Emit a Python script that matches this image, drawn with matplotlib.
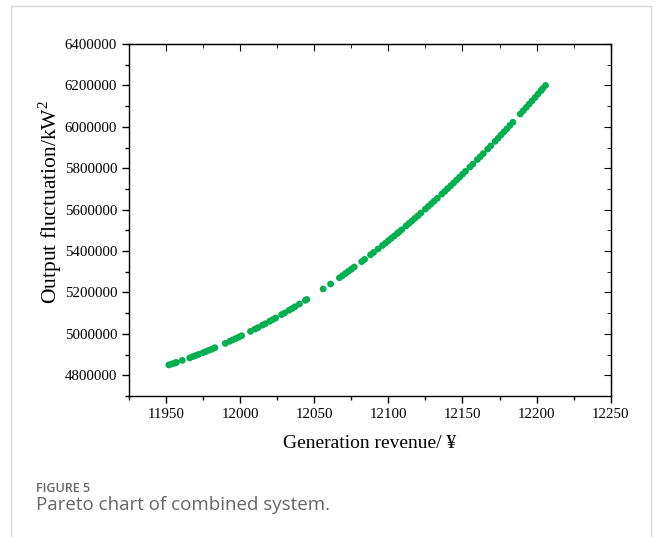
import matplotlib.pyplot as plt
from matplotlib.lines import Line2D
from matplotlib.ticker import MultipleLocator, ScalarFormatter

# Pareto front points
revenue = [11952, 11954, 11956, 11957, 11961, 11966, 11968, 11970, 11972, 11975,
           11977, 11979, 11981, 11983, 11990, 11993, 11995, 11997, 11999, 12001,
           12007, 12010, 12012, 12015, 12017, 12020, 12022, 12024, 12028, 12030,
           12033, 12035, 12037, 12040, 12044, 12045, 12056, 12061, 12067, 12069,
           12071, 12073, 12075, 12077, 12082, 12084, 12088, 12090, 12093, 12096,
           12098, 12100, 12102, 12104, 12106, 12107, 12109, 12112, 12114, 12116,
           12118, 12120, 12122, 12125, 12127, 12129, 12131, 12133, 12136, 12138,
           12140, 12142, 12144, 12146, 12148, 12150, 12152, 12155, 12157, 12160,
           12162, 12164, 12167, 12169, 12172, 12174, 12176, 12178, 12180, 12182,
           12184, 12189, 12191, 12193, 12195, 12197, 12199, 12201, 12203, 12204,
           12206]
fluctuation = [4850000, 4855000, 4859000, 4862000, 4872000, 4884000, 4890000, 4895000, 4901000, 4909000,
               4915000, 4921000, 4926000, 4933000, 4954000, 4964000, 4971000, 4977000, 4984000, 4991000,
               5012000, 5023000, 5030000, 5042000, 5049000, 5061000, 5069000, 5077000, 5093000, 5101000,
               5114000, 5122000, 5131000, 5144000, 5162000, 5166000, 5217000, 5241000, 5271000, 5281000,
               5291000, 5302000, 5312000, 5323000, 5349000, 5360000, 5382000, 5393000, 5410000, 5427000,
               5438000, 5450000, 5462000, 5473000, 5485000, 5491000, 5503000, 5522000, 5534000, 5546000,
               5559000, 5571000, 5584000, 5603000, 5616000, 5629000, 5642000, 5655000, 5675000, 5688000,
               5702000, 5715000, 5729000, 5743000, 5757000, 5771000, 5785000, 5806000, 5820000, 5842000,
               5856000, 5871000, 5893000, 5908000, 5930000, 5945000, 5961000, 5976000, 5991000, 6007000,
               6022000, 6062000, 6078000, 6094000, 6110000, 6126000, 6142000, 6159000, 6175000, 6184000,
               6200000]

x_ticks = [11950, 12000, 12050, 12100, 12150, 12200, 12250]
y_ticks = [4800000, 5000000, 5200000, 5400000, 5600000, 5800000, 6000000, 6200000, 6400000]

plt.rcParams['font.family'] = ['Liberation Serif', 'DejaVu Serif']
plt.rcParams['mathtext.fontset'] = 'custom'
plt.rcParams['mathtext.rm'] = 'Liberation Serif'

fig = plt.figure(figsize=(6.61, 5.37), dpi=100)
ax = fig.add_axes([0.195, 0.2626, 0.729, 0.6554])

ax.scatter(revenue, fluctuation, s=24, color='#00b050', edgecolors='none', zorder=3)

ax.set_xlim(11925, 12250)
ax.set_ylim(4700000, 6400000)
ax.set_xticks(x_ticks)
ax.set_yticks(y_ticks)
fmt = ScalarFormatter(useOffset=False)
fmt.set_scientific(False)
ax.yaxis.set_major_formatter(fmt)
ax.xaxis.set_minor_locator(MultipleLocator(25))
ax.yaxis.set_minor_locator(MultipleLocator(100000))

ax.tick_params(which='both', direction='out', labelsize=10.7, width=1.0, color='black')
ax.tick_params(which='major', length=5)
ax.tick_params(which='minor', length=3)

# inward ticks on top and right, like origin
axt = ax.secondary_xaxis('top')
axt.set_xticks(x_ticks)
axt.xaxis.set_minor_locator(MultipleLocator(25))
axt.tick_params(which='both', direction='in', labeltop=False)
axt.tick_params(which='major', length=5)
axt.tick_params(which='minor', length=3)
axr = ax.secondary_yaxis('right')
axr.set_yticks(y_ticks)
axr.yaxis.set_minor_locator(MultipleLocator(100000))
axr.tick_params(which='both', direction='in', labelright=False)
axr.tick_params(which='major', length=5)
axr.tick_params(which='minor', length=3)

for s in ax.spines.values():
    s.set_linewidth(1.0)

ax.set_xlabel('Generation revenue/ ¥', fontsize=14, labelpad=10)
ax.set_ylabel('Output fluctuation/kW$^\\mathrm{2}$', fontsize=15.5)
ax.yaxis.set_label_coords(-0.135, 0.55)

# caption and frame around the figure panel
fig.text(0.054, 0.084, 'FIGURE 5', fontsize=9, color='#666666', family='Open Sans', fontweight='semibold')
fig.text(0.054, 0.05, 'Pareto chart of combined system.', fontsize=13.5, color='#666666', family='Open Sans')
fig.add_artist(Line2D([0.017, 0.017], [0.0, 0.988], color='#d8d8d8', lw=1))
fig.add_artist(Line2D([0.017, 0.985], [0.988, 0.988], color='#d8d8d8', lw=1))
fig.add_artist(Line2D([0.985, 0.985], [0.0, 0.988], color='#d8d8d8', lw=1))

fig.savefig('out.png', dpi=100)
